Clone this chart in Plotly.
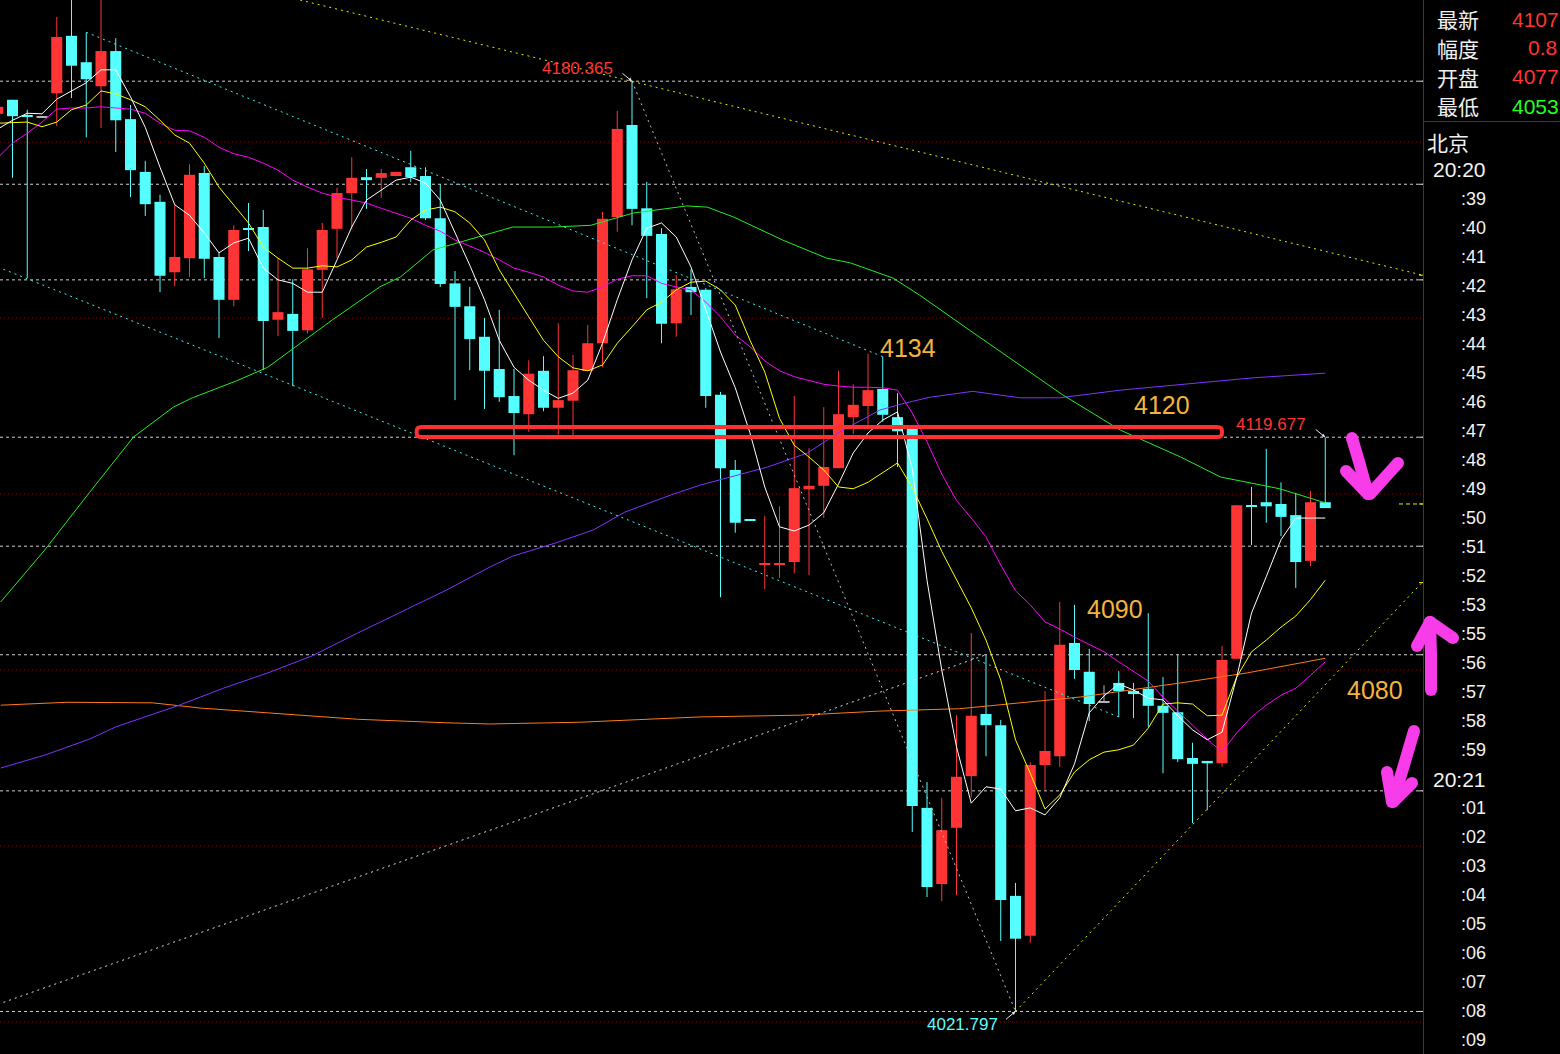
import plotly.graph_objects as go

W, H = 1560, 1054
PLOT_W = 1423

# ---------------- candle data (price) ----------------
opens = [4174.8, 4177.2, 4174.6, 4174.3, 4178.3, 4188.1, 4183.6, 4179.5, 4185.5, 4173.9,
         4164.9, 4159.8, 4147.8, 4150.2, 4164.7, 4150.4, 4143.1, 4155.2, 4155.5, 4139.7,
         4140.7, 4137.9, 4148.2, 4155.2, 4161.3, 4164.0, 4163.9, 4164.2, 4165.7, 4164.2,
         4157.0, 4145.9, 4142.0, 4136.8, 4131.3, 4126.7, 4123.6, 4131.0, 4124.7, 4125.9,
         4131.0, 4135.7, 4157.2, 4172.9, 4158.7, 4154.3, 4139.1, 4145.3, 4144.8, 4126.9,
         4114.1, 4105.6, 4098.0, 4098.0, 4098.4, 4110.8, 4111.4, 4114.4, 4123.1, 4125.0,
         4127.9, 4123.1, 4121.2, 4056.5, 4043.5, 4053.1, 4061.9, 4072.5, 4070.6, 4041.5,
         4034.7, 4063.8, 4065.3, 4084.6, 4079.7, 4074.5, 4077.8, 4076.4, 4076.8, 4073.9,
         4072.8, 4065.0, 4064.5, 4064.1, 4081.9, 4108.0, 4108.6, 4108.3, 4106.4, 4098.6,
         4108.6]
highs = [4176.0, 4177.2, 4175.5, 4174.3, 4191.3, 4195.0, 4188.7, 4195.0, 4187.7, 4176.3,
         4166.8, 4161.0, 4159.3, 4166.2, 4165.9, 4151.2, 4155.8, 4159.6, 4158.4, 4150.2,
         4146.6, 4151.9, 4156.2, 4162.2, 4167.4, 4165.4, 4165.4, 4164.9, 4168.5, 4165.7,
         4162.8, 4148.0, 4145.3, 4140.0, 4141.4, 4131.3, 4132.8, 4133.5, 4139.1, 4133.7,
         4138.8, 4158.1, 4175.3, 4180.365, 4163.2, 4155.3, 4147.3, 4148.3, 4145.1, 4127.4,
         4115.8, 4105.6, 4106.3, 4107.9, 4126.7, 4117.8, 4124.8, 4131.0, 4128.7, 4133.9,
         4133.4, 4127.2, 4121.2, 4060.9, 4058.2, 4072.3, 4086.3, 4082.6, 4071.5, 4043.7,
         4064.3, 4076.4, 4091.6, 4091.1, 4083.6, 4077.4, 4079.8, 4077.8, 4089.7, 4078.8,
         4082.6, 4067.6, 4064.5, 4084.1, 4108.1, 4111.2, 4117.7, 4112.0, 4110.2, 4110.5,
         4119.677]
lows = [4174.8, 4163.9, 4146.8, 4174.3, 4172.7, 4177.5, 4170.8, 4172.4, 4168.3, 4160.6,
        4157.4, 4144.4, 4145.4, 4147.0, 4146.8, 4136.6, 4142.0, 4151.4, 4131.1, 4136.9,
        4128.4, 4137.4, 4140.0, 4150.2, 4155.2, 4158.6, 4160.5, 4164.2, 4163.2, 4156.7,
        4145.3, 4126.0, 4131.1, 4124.5, 4125.7, 4116.6, 4120.6, 4124.1, 4120.1, 4119.7,
        4131.0, 4131.6, 4154.7, 4155.8, 4143.4, 4135.7, 4136.8, 4140.5, 4124.7, 4092.4,
        4103.4, 4105.4, 4093.8, 4095.7, 4096.5, 4096.2, 4105.9, 4114.4, 4120.2, 4121.8,
        4122.3, 4114.6, 4052.4, 4041.3, 4040.6, 4041.6, 4058.3, 4065.3, 4033.8, 4021.797,
        4033.5, 4059.5, 4063.5, 4078.5, 4071.3, 4074.5, 4072.0, 4071.8, 4070.3, 4062.4,
        4064.3, 4053.9, 4056.1, 4063.5, 4081.9, 4101.3, 4105.1, 4102.8, 4094.0, 4097.7,
        4107.6]
closes = [4176.0, 4174.4, 4174.3, 4174.3, 4187.9, 4183.0, 4180.7, 4185.5, 4173.7, 4165.2,
          4159.4, 4147.2, 4150.4, 4164.4, 4150.1, 4143.1, 4155.0, 4155.0, 4139.5, 4141.0,
          4137.8, 4148.3, 4155.0, 4161.3, 4163.9, 4163.5, 4164.7, 4164.9, 4164.0, 4157.0,
          4145.8, 4141.9, 4136.4, 4131.0, 4126.5, 4123.8, 4130.5, 4124.7, 4126.0, 4131.1,
          4135.7, 4156.9, 4172.2, 4158.6, 4154.0, 4139.0, 4144.9, 4144.4, 4126.7, 4114.4,
          4105.1, 4105.4, 4098.2, 4098.2, 4111.0, 4111.4, 4114.6, 4123.6, 4125.2, 4127.7,
          4123.5, 4120.7, 4056.8, 4043.0, 4052.7, 4061.8, 4072.2, 4070.6, 4040.8, 4034.2,
          4063.8, 4066.2, 4084.3, 4080.0, 4074.2, 4074.5, 4076.4, 4075.9, 4073.9, 4072.7,
          4064.8, 4064.0, 4064.1, 4081.7, 4108.1, 4107.9, 4107.9, 4106.1, 4098.4, 4108.6,
          4107.6]

# ---------------- moving averages ----------------
ma5 = [4172.2, 4173.7, 4174.9, 4174.8, 4177.3, 4178.7, 4180.1, 4182.3, 4182.3, 4177.7,
       4172.5, 4165.7, 4159.3, 4157.5, 4154.5, 4151.1, 4152.8, 4153.6, 4148.5, 4146.5,
       4145.9, 4144.4, 4144.4, 4149.9, 4155.5, 4160.1, 4161.8, 4163.5, 4164.0, 4163.0,
       4160.1, 4154.7, 4149.0, 4143.1, 4136.2, 4131.6, 4129.4, 4127.7, 4126.3, 4127.2,
       4129.4, 4135.7, 4143.1, 4149.9, 4155.3, 4156.2, 4153.8, 4148.7, 4141.4, 4134.2,
       4128.1, 4120.4, 4111.2, 4104.4, 4103.7, 4104.7, 4106.8, 4111.7, 4117.0, 4120.4,
       4122.6, 4124.0, 4114.3, 4095.3, 4080.0, 4066.9, 4057.3, 4060.1, 4059.7, 4056.0,
       4056.5, 4055.3, 4058.2, 4064.0, 4072.7, 4075.6, 4077.6, 4076.6, 4075.2, 4074.9,
       4072.2, 4069.8, 4068.1, 4069.4, 4078.8, 4089.7, 4095.9, 4102.2, 4105.9, 4105.9,
       4105.9]
ma10 = [4173.2, 4173.3, 4173.4, 4172.6, 4173.4, 4175.5, 4176.3, 4178.7, 4178.2, 4177.2,
        4176.0, 4173.7, 4171.2, 4169.8, 4166.4, 4162.3, 4159.3, 4156.2, 4152.1, 4150.2,
        4148.5, 4148.5, 4148.9, 4148.7, 4149.9, 4152.1, 4152.9, 4153.8, 4156.7, 4158.4,
        4158.9, 4158.1, 4156.2, 4153.3, 4148.2, 4144.3, 4140.2, 4136.2, 4133.4, 4131.5,
        4131.0, 4132.0, 4135.7, 4138.5, 4141.4, 4142.7, 4144.8, 4146.1, 4146.3, 4144.8,
        4142.2, 4136.2, 4130.8, 4122.9, 4118.3, 4116.3, 4114.1, 4111.2, 4110.9, 4112.0,
        4113.7, 4115.3, 4111.1, 4105.8, 4100.2, 4095.3, 4090.6, 4085.1, 4078.3, 4068.1,
        4062.4, 4056.3, 4058.7, 4062.6, 4064.7, 4066.0, 4066.4, 4067.2, 4070.1, 4074.2,
        4074.4, 4074.2, 4072.2, 4072.3, 4078.8, 4083.1, 4085.1, 4087.3, 4089.2, 4092.0,
        4095.3]
ma20 = [4167.3, 4169.8, 4171.5, 4173.4, 4175.6, 4175.8, 4175.8, 4176.0, 4175.8, 4175.6,
        4174.9, 4173.2, 4172.0, 4171.9, 4170.8, 4169.1, 4168.0, 4167.4, 4166.4, 4165.2,
        4163.5, 4162.3, 4161.3, 4160.6, 4160.1, 4159.6, 4158.7, 4157.9, 4157.0, 4155.8,
        4154.8, 4153.3, 4152.3, 4151.2, 4149.9, 4148.5, 4147.8, 4147.0, 4145.6, 4144.6,
        4144.4, 4145.3, 4146.6, 4147.2, 4147.2, 4145.9, 4145.3, 4144.8, 4142.7, 4140.2,
        4137.1, 4135.1, 4132.7, 4131.0, 4130.0, 4129.3, 4128.7, 4128.4, 4128.2, 4128.2,
        4128.1, 4127.7, 4123.8, 4118.9, 4113.4, 4108.9, 4105.9, 4102.7, 4097.9, 4093.5,
        4091.1, 4088.2, 4087.0, 4085.6, 4084.3, 4083.1, 4081.4, 4079.7, 4078.1, 4075.4,
        4073.0, 4070.6, 4068.2, 4066.0, 4069.3, 4072.0, 4074.0, 4075.7, 4076.9, 4079.1,
        4081.4]
ma60_x = [0.2, 3.2, 6.2, 9.2, 11.9, 13.2, 16.2, 18.3, 22.7, 25.9, 27.3, 29.5, 34.9, 37.6,
          40.2, 43.1, 46.7, 48.1, 49.9, 51.7, 53.2, 56.2, 57.8, 60.7, 62.5, 65.9, 72.2,
          76.1, 80.2, 82.9, 86.9, 90.0]
ma60 = [4091.6, 4100.5, 4110.2, 4119.7, 4124.8, 4126.4, 4129.3, 4131.6, 4139.7, 4145.3,
        4147.0, 4151.6, 4155.5, 4155.5, 4155.8, 4157.9, 4159.1, 4158.9, 4157.2, 4155.0,
        4153.3, 4150.2, 4149.4, 4146.8, 4143.9, 4137.9, 4126.9, 4120.9, 4116.3, 4112.9,
        4110.9, 4108.5]
ma120_x = [0.2, 3.2, 6.2, 8.0, 12.3, 15.3, 18.3, 21.3, 24.4, 27.4, 30.4, 33.4, 34.9, 38.0,
           40.4, 42.5, 45.6, 47.6, 52.2, 54.9, 57.1, 59.8, 61.2, 63.2, 66.1, 69.3, 72.0,
           76.1, 80.6, 85.1, 90.0]
ma120 = [4063.3, 4065.5, 4068.2, 4070.3, 4074.0, 4076.9, 4079.5, 4082.4, 4086.3, 4089.9,
         4093.6, 4097.6, 4099.4, 4101.8, 4103.9, 4106.9, 4109.8, 4111.5, 4114.6, 4117.0,
         4120.6, 4124.3, 4125.3, 4126.5, 4127.5, 4126.4, 4126.4, 4127.7, 4128.7, 4129.8,
         4130.6]
ma250_x = [0.2, 4.7, 10.5, 13.8, 18.3, 24.4, 30.4, 33.4, 39.5, 47.6, 54.4, 59.8, 65.2,
           73.4, 80.2, 84.7, 90.0]
ma250 = [4074.0, 4074.5, 4074.4, 4073.5, 4072.7, 4071.6, 4071.0, 4070.8, 4071.1, 4072.0,
         4072.3, 4073.0, 4073.4, 4075.4, 4077.8, 4079.5, 4082.0]

# ---------------- drawn objects ----------------
level_prices = [4180.365, 4162.8, 4146.5, 4119.677, 4101.1, 4082.6, 4059.4, 4021.797]
grid_prices = [4020, 4050, 4080, 4110, 4140, 4170]
cyan_upper = [(6, 4188.7), (60, 4133.4)]
cyan_lower = [(0, 4148.7), (76, 4072.0)]
yellow_upper = [(20.5, 4194.2), (96.6, 4147.3)]
yellow_lower = [(69, 4021.797), (97.5, 4097.4)]
gray_hilo = [(43, 4180.365), (69, 4021.797)]
white_rise = [(0, 4023.0), (67, 4082.6)]
box_x = [28.4, 83.0]
box_y = [4119.7, 4121.4]
price_labels = [("4134", 61.7, 4134.9), ("4120", 78.9, 4125.2),
                ("4090", 75.75, 4090.4), ("4080", 93.4, 4076.6)]
marker_labels = [("4180.365", 39.3, 4182.6, 43, 4180.365, "#ff3434"),
                 ("4119.677", 86.3, 4121.8, 90, 4119.677, "#ff3434"),
                 ("4021.797", 65.4, 4019.5, 69, 4021.797, "#55ffff")]
last_price = 4108.3

info_names = ["最新", "幅度", "开盘", "最低"]
info_values = ["4107", "0.8", "4077", "4053"]
info_colors = ["#ff3434", "#ff3434", "#ff3434", "#22ff22"]
times = ["20:20", ":39", ":40", ":41", ":42", ":43", ":44", ":45", ":46", ":47", ":48",
         ":49", ":50", ":51", ":52", ":53", ":55", ":56", ":57", ":58", ":59", "20:21",
         ":01", ":02", ":03", ":04", ":05", ":06", ":07", ":08", ":09"]

# ---------------- styling ----------------
RED = "#ff3434"
CYAN = "#55ffff"
GRAY = "#b4b4b4"
X_LO = (0 + 2.25) / 14.75
X_HI = (PLOT_W + 2.25) / 14.75
Y_HI = 4110 + 494 * 30 / 176
Y_LO = 4110 - 560 * 30 / 176

n = len(closes)
idx = list(range(n))

fig = go.Figure()

# wicks
for col, cond in ((RED, lambda o, c: c > o), (CYAN, lambda o, c: c < o), (GRAY, lambda o, c: c == o)):
    wx, wy = [], []
    for i in idx:
        if cond(opens[i], closes[i]):
            wx += [i, i, None]
            wy += [lows[i], highs[i], None]
    fig.add_trace(go.Scatter(x=wx, y=wy, mode="lines", line=dict(color=col, width=1),
                             hoverinfo="skip"))

# bodies
MINH = 0.2
for col, cond in ((RED, lambda o, c: c > o), (CYAN, lambda o, c: c < o), (GRAY, lambda o, c: c == o)):
    bx, bb, bh = [], [], []
    for i in idx:
        o, c = opens[i], closes[i]
        if cond(o, c):
            h = max(abs(c - o), MINH)
            bx.append(i)
            bb.append(min(o, c) if abs(c - o) >= MINH else (o + c) / 2 - MINH / 2)
            bh.append(h)
    fig.add_trace(go.Bar(x=bx, y=bh, base=bb, width=0.75, marker=dict(color=col, line=dict(width=0)),
                         hoverinfo="skip"))

# moving averages
fig.add_trace(go.Scatter(x=ma250_x, y=ma250, mode="lines", line=dict(color="#ff7a1a", width=1)))
fig.add_trace(go.Scatter(x=ma120_x, y=ma120, mode="lines", line=dict(color="#8033ff", width=1)))
fig.add_trace(go.Scatter(x=ma60_x, y=ma60, mode="lines", line=dict(color="#22ee22", width=1)))
fig.add_trace(go.Scatter(x=idx, y=ma20, mode="lines", line=dict(color="#ff00ff", width=1)))
fig.add_trace(go.Scatter(x=idx, y=ma10, mode="lines", line=dict(color="#ffff00", width=1)))
fig.add_trace(go.Scatter(x=idx, y=ma5, mode="lines", line=dict(color="#ffffff", width=1)))

shapes = []
# grid dotted lines
for p in grid_prices:
    shapes.append(dict(type="line", xref="x", yref="y", x0=X_LO, x1=X_HI, y0=p, y1=p,
                       line=dict(color="#9a0000", width=1, dash="1px,3px"), layer="below"))
# drawn horizontal levels
for p in level_prices:
    shapes.append(dict(type="line", xref="x", yref="y", x0=X_LO, x1=X_HI, y0=p, y1=p,
                       line=dict(color="#cfcfcf", width=1, dash="3px,3px"), layer="below"))


def seg(pts, color, dash="2px,4px", width=1):
    (xa, ya), (xb, yb) = pts
    return dict(type="line", xref="x", yref="y", x0=xa, y0=ya, x1=xb, y1=yb,
                line=dict(color=color, width=width, dash=dash), layer="above")


shapes.append(seg(cyan_upper, "#40f0f0"))
shapes.append(seg(cyan_lower, "#40f0f0"))
shapes.append(seg(yellow_upper, "#e8e800"))
shapes.append(seg(yellow_lower, "#e8e800"))
shapes.append(seg(gray_hilo, "#bdbdbd"))
shapes.append(seg(white_rise, "#e0e0e0"))

# red rounded box
x0, x1 = box_x
y0, y1 = box_y
rx, ry = 0.35, 0.7
path = (f"M {x0+rx},{y0} L {x1-rx},{y0} Q {x1},{y0} {x1},{y0+ry} L {x1},{y1-ry} "
        f"Q {x1},{y1} {x1-rx},{y1} L {x0+rx},{y1} Q {x0},{y1} {x0},{y1-ry} "
        f"L {x0},{y0+ry} Q {x0},{y0} {x0+rx},{y0} Z")
shapes.append(dict(type="path", xref="x", yref="y", path=path,
                   line=dict(color="#ff3030", width=4), layer="above"))

# last price marker on axis
shapes.append(dict(type="line", xref="x", yref="y", x0=(1399 + 2.25) / 14.75, x1=X_HI,
                   y0=last_price, y1=last_price,
                   line=dict(color="#e8e800", width=1, dash="4px,3px"), layer="above"))

# axis tick marks on the separator
for p in level_prices:
    shapes.append(dict(type="line", xref="paper", yref="y", x0=1419 / W, x1=1423 / W,
                       y0=p, y1=p, line=dict(color="#dddddd", width=1)))
for p in (4147.3, last_price, 4094.9):
    shapes.append(dict(type="line", xref="paper", yref="y", x0=1419 / W, x1=1423 / W,
                       y0=p, y1=p, line=dict(color="#e8e800", width=1)))

# right panel separators
shapes.append(dict(type="line", xref="paper", yref="paper", x0=1423.5 / W, x1=1423.5 / W,
                   y0=0, y1=1, line=dict(color="#a01010", width=1)))
shapes.append(dict(type="line", xref="paper", yref="paper", x0=1423.5 / W, x1=1,
                   y0=1 - 121.5 / H, y1=1 - 121.5 / H, line=dict(color="#a01010", width=1)))


# magenta hand-drawn arrows
def P(x, y):
    return f"{x / W:.5f},{1 - y / H:.5f}"


MAG = "#f83cea"
strokes = [
    [(1352, 438), (1360, 465), (1368, 494)],
    [(1346, 471), (1368, 494)],
    [(1398, 463), (1370, 494)],
    [(1431, 690), (1431, 655), (1430, 622)],
    [(1417, 646), (1430, 622)],
    [(1430, 622), (1453, 638)],
    [(1414, 731), (1404, 765), (1393, 801)],
    [(1387, 772), (1392, 802)],
    [(1412, 783), (1393, 802)],
]
SW = 12
for st in strokes:
    d = "M " + " L ".join(P(x, y) for x, y in st)
    shapes.append(dict(type="path", xref="paper", yref="paper", path=d,
                       line=dict(color=MAG, width=SW), layer="above"))
    for (x, y) in (st[0], st[-1]):
        r = SW / 2
        shapes.append(dict(type="circle", xref="paper", yref="paper",
                           x0=(x - r) / W, x1=(x + r) / W, y0=1 - (y + r) / H, y1=1 - (y - r) / H,
                           fillcolor=MAG, line=dict(width=0), layer="above"))

annotations = []
NUMFONT = "Liberation Sans, Arial, sans-serif"
CJK = "Noto Sans CJK SC, sans-serif"
for txt, xi, yp in price_labels:
    annotations.append(dict(x=xi, y=yp, xref="x", yref="y", text=txt, showarrow=False,
                            font=dict(family=NUMFONT, size=25, color="#f3b33e"),
                            xanchor="center", yanchor="middle"))
for txt, xi, yp, tx, ty, col in marker_labels:
    annotations.append(dict(x=xi, y=yp, xref="x", yref="y", text=txt, showarrow=False,
                            font=dict(family=NUMFONT, size=17, color=col),
                            xanchor="center", yanchor="middle"))
    annotations.append(dict(x=tx, y=ty, xref="x", yref="y", text="", showarrow=True,
                            ax=-11, ay=-9 if ty > 4100 else 9, arrowhead=2, arrowsize=0.7,
                            arrowwidth=1, arrowcolor="#e8e8e8", standoff=0))

# right info panel
for k, (nm, val, col) in enumerate(zip(info_names, info_values, info_colors)):
    yy = 19 + 29 * k
    annotations.append(dict(x=1435 / W, y=1 - yy / H, xref="paper", yref="paper", text=nm,
                            showarrow=False, xanchor="left", yanchor="middle",
                            font=dict(family=CJK, size=21, color="#f0f0f0")))
    if nm == "幅度":
        annotations.append(dict(x=1559 / W, y=1 - yy / H, xref="paper", yref="paper", text=val,
                                showarrow=False, xanchor="right", yanchor="middle",
                                font=dict(family=NUMFONT, size=21, color=col)))
    else:
        annotations.append(dict(x=1510 / W, y=1 - yy / H, xref="paper", yref="paper", text=val,
                                showarrow=False, xanchor="left", yanchor="middle",
                                font=dict(family=NUMFONT, size=21, color=col)))
annotations.append(dict(x=1425 / W, y=1 - 142 / H, xref="paper", yref="paper", text="北京",
                        showarrow=False, xanchor="left", yanchor="middle",
                        font=dict(family=CJK, size=21, color="#f0f0f0")))
for k, t in enumerate(times):
    yy = 170 + 29 * k
    big = t.startswith("20")
    annotations.append(dict(x=1488 / W, y=1 - yy / H, xref="paper", yref="paper", text=t,
                            showarrow=False, xanchor="right", yanchor="middle",
                            font=dict(family=NUMFONT, size=21 if big else 18, color="#f4f4f4")))

fig.update_layout(
    width=W, height=H, margin=dict(l=0, r=0, t=0, b=0),
    paper_bgcolor="black", plot_bgcolor="black", showlegend=False,
    barmode="overlay", hovermode=False,
    xaxis=dict(domain=[0, PLOT_W / W], range=[X_LO, X_HI], visible=False, fixedrange=True),
    yaxis=dict(range=[Y_LO, Y_HI], visible=False, fixedrange=True),
    shapes=shapes, annotations=annotations,
)

fig.write_html("out.html")
